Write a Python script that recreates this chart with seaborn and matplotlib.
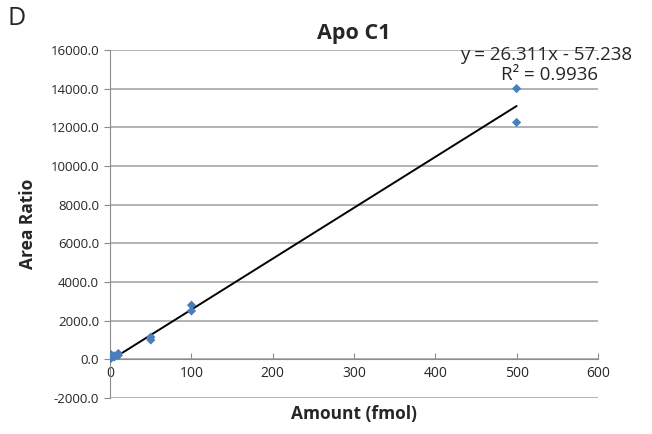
import seaborn as sns
import matplotlib.pyplot as plt
import pandas as pd
import numpy as np

# values
amount = [0.5, 1, 1, 5, 5, 10, 10, 50, 50, 100, 100, 500, 500]
area_ratio = [40, 250, 60, 120, 180, 300, 200, 1150, 1000, 2800, 2500, 14000, 12250]
slope = 26.311
intercept = -57.238
r_squared = 0.9936

data = pd.DataFrame({'Amount (fmol)': amount, 'Area Ratio': area_ratio})

sns.set_style('white')
plt.rcParams['font.family'] = ['Open Sans', 'DejaVu Sans']

fig = plt.figure(figsize=(6.52, 4.34), dpi=100)
ax = fig.add_axes([0.169, 0.083, 0.748, 0.802])

# trendline over the data's x range
fit_x = np.array([min(amount), max(amount)])
fit = pd.DataFrame({'x': fit_x, 'y': slope * fit_x + intercept})
sns.lineplot(x='x', y='y', data=fit, color='black', linewidth=1.4, ax=ax, zorder=2)
sns.scatterplot(x='Amount (fmol)', y='Area Ratio', data=data, marker='D', s=22,
                color='#4a7ebb', edgecolor='none', ax=ax, zorder=3)

ax.set_xlim(0, 600)
ax.set_ylim(-2000, 16000)
ax.set_xticks(range(0, 601, 100))
ax.set_yticks(range(-2000, 16001, 2000))
ax.set_yticklabels([f'{v:.1f}' for v in range(-2000, 16001, 2000)], fontsize=9.5)
ax.set_xticklabels([str(v) for v in range(0, 601, 100)], fontsize=10)
ax.yaxis.grid(True, color='#a6a6a6', linewidth=1.2)
ax.xaxis.grid(False)

for side in ['top', 'right']:
    ax.spines[side].set_visible(False)
ax.spines['bottom'].set_position(('data', 0))
ax.spines['bottom'].set_color('#8c8c8c')
ax.spines['left'].set_color('#8c8c8c')
ax.tick_params(axis='x', length=4, color='#8c8c8c', direction='in', pad=5, bottom=True)
ax.tick_params(axis='y', length=4, color='#8c8c8c', direction='out', pad=4, left=True)

ax.set_xlabel('Amount (fmol)', fontsize=12.5, fontweight='bold', labelpad=17)
ax.set_ylabel('Area Ratio', fontsize=12.5, fontweight='bold', labelpad=10)
ax.set_title('Apo C1', fontsize=15.5, fontweight='bold', pad=8)

ax.text(1.07, 0.986, f'y = {slope}x - {-intercept}', transform=ax.transAxes,
        ha='right', va='center', fontsize=13.5)
ax.text(1.0, 0.928, f'R\u00b2 = {r_squared}', transform=ax.transAxes,
        ha='right', va='center', fontsize=13.5)

fig.text(0.012, 0.958, 'D', fontsize=18, ha='left', va='center')

fig.savefig('out.png', dpi=100)
